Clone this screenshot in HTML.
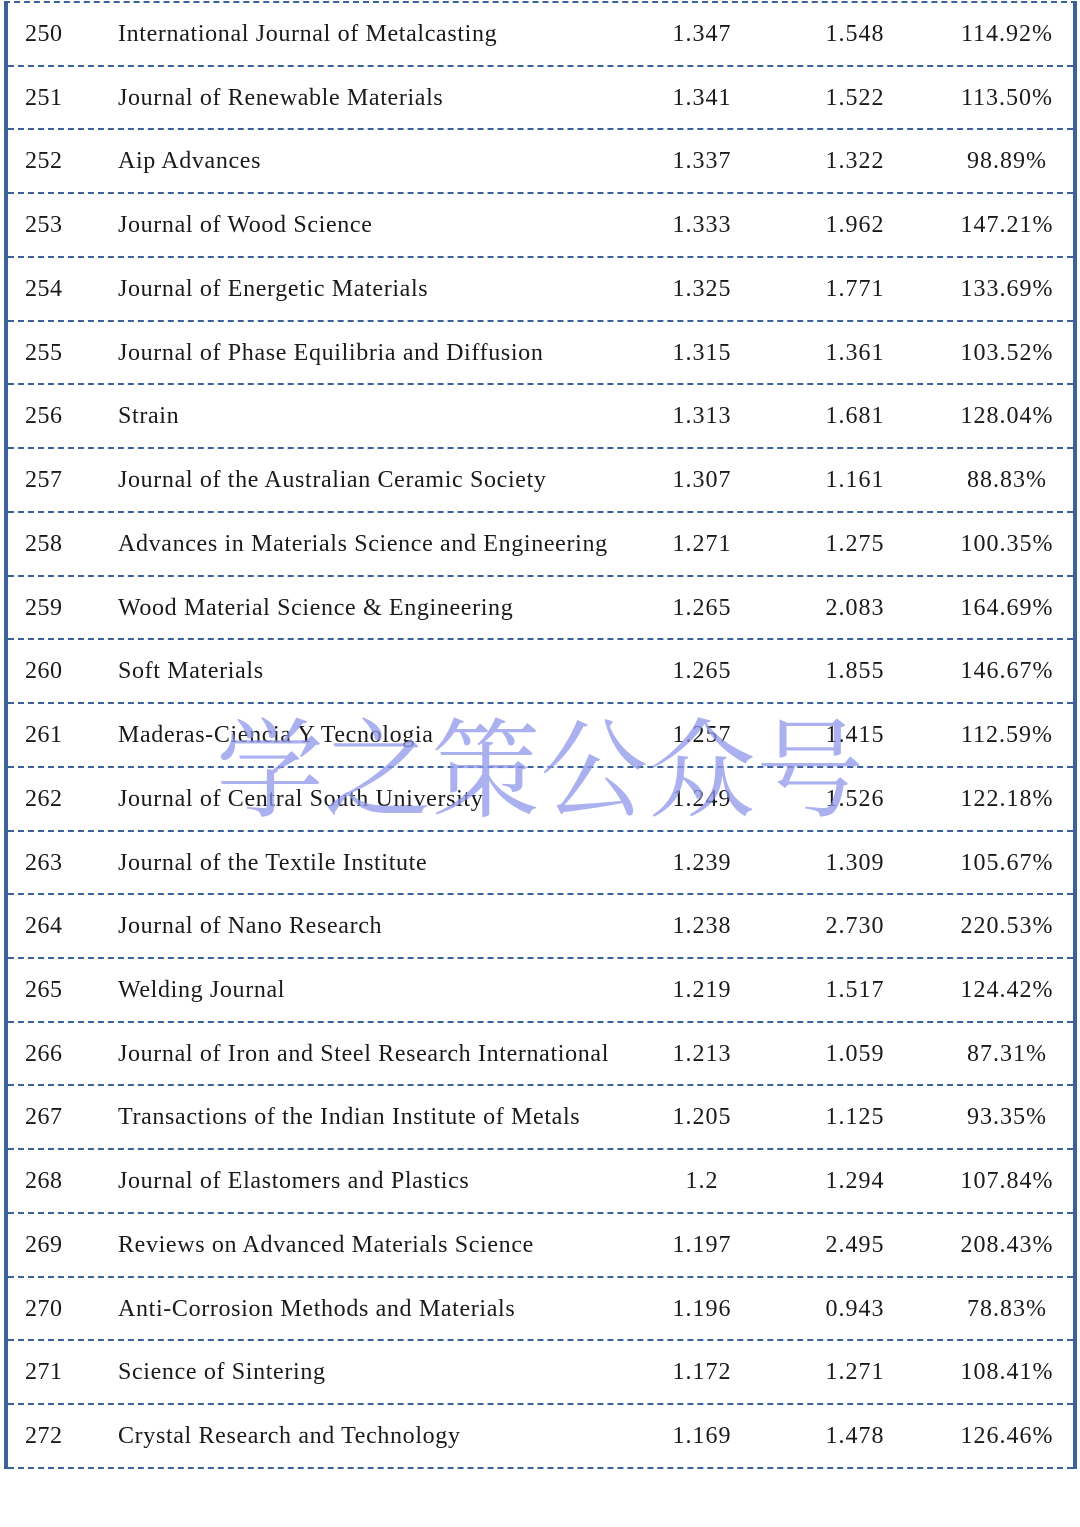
<!DOCTYPE html>
<html><head><meta charset="utf-8"><style>
html,body{margin:0;padding:0;background:#fff;}
body{width:1080px;height:1527px;position:relative;overflow:hidden;font-family:"Liberation Serif",serif;color:#1a1a1a;}
.tbl{position:absolute;left:4px;top:1px;width:1073px;border-left:4px solid #3b629a;border-right:4px solid #3b629a;box-sizing:border-box;border-top:2px dashed #3b629a;}
.row{height:61.74px;border-bottom:2px dashed #3b629a;position:relative;font-size:24px;}
.row span{position:absolute;top:18px;white-space:nowrap;}
.a{left:17px;letter-spacing:0.5px}.b{left:110px;letter-spacing:0.65px}
.c,.d,.e{transform:translateX(-50%);letter-spacing:1px}
.c{left:694px}.d{left:847px}.e{left:999px}
.wm{position:absolute;left:216px;top:708px;font-family:"Noto Serif CJK SC",serif;font-size:108px;color:#8f98ea;opacity:0.75;letter-spacing:0px;white-space:nowrap;line-height:1;}
</style></head><body>
<div class="tbl">
<div class="row"><span class="a">250</span><span class="b">International Journal of Metalcasting</span><span class="c">1.347</span><span class="d">1.548</span><span class="e">114.92%</span></div>
<div class="row"><span class="a">251</span><span class="b">Journal of Renewable Materials</span><span class="c">1.341</span><span class="d">1.522</span><span class="e">113.50%</span></div>
<div class="row"><span class="a">252</span><span class="b">Aip Advances</span><span class="c">1.337</span><span class="d">1.322</span><span class="e">98.89%</span></div>
<div class="row"><span class="a">253</span><span class="b">Journal of Wood Science</span><span class="c">1.333</span><span class="d">1.962</span><span class="e">147.21%</span></div>
<div class="row"><span class="a">254</span><span class="b">Journal of Energetic Materials</span><span class="c">1.325</span><span class="d">1.771</span><span class="e">133.69%</span></div>
<div class="row"><span class="a">255</span><span class="b">Journal of Phase Equilibria and Diffusion</span><span class="c">1.315</span><span class="d">1.361</span><span class="e">103.52%</span></div>
<div class="row"><span class="a">256</span><span class="b">Strain</span><span class="c">1.313</span><span class="d">1.681</span><span class="e">128.04%</span></div>
<div class="row"><span class="a">257</span><span class="b">Journal of the Australian Ceramic Society</span><span class="c">1.307</span><span class="d">1.161</span><span class="e">88.83%</span></div>
<div class="row"><span class="a">258</span><span class="b">Advances in Materials Science and Engineering</span><span class="c">1.271</span><span class="d">1.275</span><span class="e">100.35%</span></div>
<div class="row"><span class="a">259</span><span class="b">Wood Material Science &amp; Engineering</span><span class="c">1.265</span><span class="d">2.083</span><span class="e">164.69%</span></div>
<div class="row"><span class="a">260</span><span class="b">Soft Materials</span><span class="c">1.265</span><span class="d">1.855</span><span class="e">146.67%</span></div>
<div class="row"><span class="a">261</span><span class="b">Maderas-Ciencia Y Tecnologia</span><span class="c">1.257</span><span class="d">1.415</span><span class="e">112.59%</span></div>
<div class="row"><span class="a">262</span><span class="b">Journal of Central South University</span><span class="c">1.249</span><span class="d">1.526</span><span class="e">122.18%</span></div>
<div class="row"><span class="a">263</span><span class="b">Journal of the Textile Institute</span><span class="c">1.239</span><span class="d">1.309</span><span class="e">105.67%</span></div>
<div class="row"><span class="a">264</span><span class="b">Journal of Nano Research</span><span class="c">1.238</span><span class="d">2.730</span><span class="e">220.53%</span></div>
<div class="row"><span class="a">265</span><span class="b">Welding Journal</span><span class="c">1.219</span><span class="d">1.517</span><span class="e">124.42%</span></div>
<div class="row"><span class="a">266</span><span class="b">Journal of Iron and Steel Research International</span><span class="c">1.213</span><span class="d">1.059</span><span class="e">87.31%</span></div>
<div class="row"><span class="a">267</span><span class="b">Transactions of the Indian Institute of Metals</span><span class="c">1.205</span><span class="d">1.125</span><span class="e">93.35%</span></div>
<div class="row"><span class="a">268</span><span class="b">Journal of Elastomers and Plastics</span><span class="c">1.2</span><span class="d">1.294</span><span class="e">107.84%</span></div>
<div class="row"><span class="a">269</span><span class="b">Reviews on Advanced Materials Science</span><span class="c">1.197</span><span class="d">2.495</span><span class="e">208.43%</span></div>
<div class="row"><span class="a">270</span><span class="b">Anti-Corrosion Methods and Materials</span><span class="c">1.196</span><span class="d">0.943</span><span class="e">78.83%</span></div>
<div class="row"><span class="a">271</span><span class="b">Science of Sintering</span><span class="c">1.172</span><span class="d">1.271</span><span class="e">108.41%</span></div>
<div class="row"><span class="a">272</span><span class="b">Crystal Research and Technology</span><span class="c">1.169</span><span class="d">1.478</span><span class="e">126.46%</span></div>
</div>
<div class="wm">学之策公众号</div>
</body></html>
